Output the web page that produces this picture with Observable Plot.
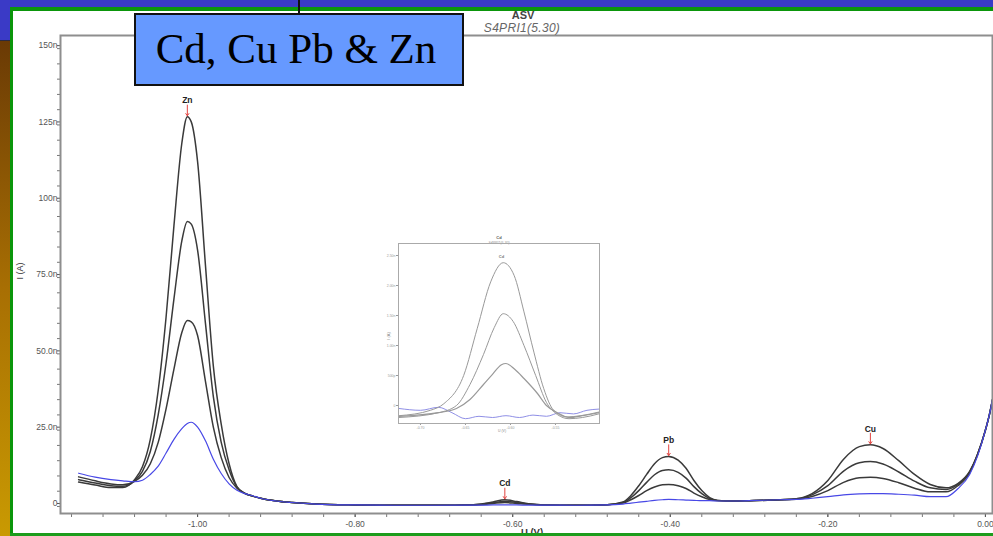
<!DOCTYPE html>
<html>
<head>
<meta charset="utf-8">
<script src="https://cdn.jsdelivr.net/npm/d3@7"></script>
<script src="https://cdn.jsdelivr.net/npm/@observablehq/plot@0.6"></script>
<style>
  html, body { margin: 0; padding: 0; width: 993px; height: 536px; overflow: hidden; background: #3a3ac6; font-family: "Liberation Sans", Arial, sans-serif; }
  #strip { position: absolute; left: 0; top: 40px; width: 10px; height: 496px; background: linear-gradient(#6a3a05, #a86f03 50%, #c99a02); border-top: 1px solid #2a2a40; }
  #panel { position: absolute; left: 10px; top: 7px; width: 1100px; height: 540px; background: #fff; border-left: 3.5px solid #0b960b; border-top: 4px solid #0b960b; box-sizing: border-box; }
  #bottom { position: absolute; left: 10px; top: 533px; width: 983px; height: 3px; background: #1c9c1c; z-index: 10; }
  #chart { position: absolute; left: 13px; top: 11px; }
  #inset { position: absolute; left: 383px; top: 233px; }
  .t { position: absolute; white-space: nowrap; transform: translate(-50%, -50%); }
  #title { left: 523px; top: 15px; font-size: 11px; font-weight: bold; color: #444; }
  #subtitle { left: 522px; top: 28px; font-size: 12px; font-style: italic; color: #666; letter-spacing: 0.3px; }
  #ylabel { left: 19.5px; top: 271px; font-size: 9px; color: #333; transform: translate(-50%, -50%) rotate(-90deg); }
  #xlabel { left: 532px; top: 531px; font-size: 9.5px; font-weight: bold; color: #333; }
  #ilabel { left: 388px; top: 336px; font-size: 4px; color: #888; transform: translate(-50%, -50%) rotate(-90deg); }
  #ixlabel { left: 502px; top: 431px; font-size: 3.5px; color: #888; }
  #box { position: absolute; left: 134px; top: 13px; width: 330px; height: 73px; box-sizing: border-box; border: 2px solid #111; background: #6699ff; font-family: "Liberation Serif", "Times New Roman", serif; font-size: 43px; color: #000; text-align: center; line-height: 67px; padding-right: 6px; z-index: 5; }
  #connector { position: absolute; left: 298px; top: 0; width: 1.5px; height: 13px; background: #111; z-index: 6; }
</style>
</head>
<body>
<div id="strip"></div>
<div id="panel"></div>
<div id="chart"></div>
<div id="inset"></div>
<div class="t" id="title">ASV</div>
<div class="t" id="subtitle">S4PRI1(5.30)</div>
<div class="t" id="ylabel">I (A)</div>
<div class="t" id="xlabel">U (V)</div>
<div class="t" id="ilabel">I (A)</div>
<div class="t" id="ixlabel">U (V)</div>
<div id="connector"></div>
<div id="box">Cd, Cu Pb &amp; Zn</div>
<div id="bottom"></div>
<script>
// Anodic stripping voltammograms: blank (blue) and three standard additions (black).
const potential = [
  -1.151, -1.13, -1.11, -1.095, -1.08, -1.07, -1.06, -1.05, -1.04, -1.03,
  -1.02, -1.013, -1.008, -1.00, -0.99, -0.98, -0.97, -0.96, -0.95, -0.94,
  -0.93, -0.92, -0.90, -0.88, -0.85, -0.80, -0.75, -0.70, -0.66, -0.64,
  -0.625, -0.61, -0.595, -0.58, -0.56, -0.52, -0.48, -0.46, -0.45, -0.44,
  -0.43, -0.42, -0.41, -0.402, -0.39, -0.38, -0.37, -0.36, -0.35, -0.34,
  -0.32, -0.30, -0.26, -0.24, -0.22, -0.20, -0.18, -0.16, -0.146, -0.13,
  -0.11, -0.09, -0.07, -0.05, -0.035, -0.02, -0.01, 0.0, 0.005, 0.009
];
// currents in nA
const currentAdd3 = [
  8.0, 7.0, 6.2, 6.2, 8.8, 13, 22, 38, 62, 92,
  119, 127.7, 126, 113, 79, 46, 27, 14, 6.5, 4.3,
  3.4, 2.7, 1.8, 1.3, 0.8, 0.5, 0.4, 0.4, 0.45, 0.8,
  1.5, 2.2, 1.6, 0.9, 0.5, 0.4, 0.6, 1.5, 3.6, 6.8,
  10.5, 14, 16, 16.4, 15.2, 12.5, 8.5, 5.2, 2.9, 2.0,
  1.8, 1.9, 2.2, 2.5, 4.2, 8.5, 15.5, 19.6, 20.2, 19.0,
  15.0, 10.5, 7.2, 6.1, 7.5, 11.5, 17, 25, 30, 35
];
const currentAdd2 = [
  8.8, 7.7, 6.8, 6.6, 8.4, 11.5, 18, 30, 47, 68,
  87, 93.4, 92.5, 84, 60, 36, 21, 12, 6.3, 4.3,
  3.4, 2.7, 1.8, 1.3, 0.8, 0.5, 0.4, 0.4, 0.45, 0.7,
  1.2, 1.7, 1.3, 0.8, 0.5, 0.4, 0.6, 1.3, 2.9, 5.2,
  7.9, 10.4, 11.8, 12.0, 11.2, 9.3, 6.5, 4.2, 2.6, 2.0,
  1.8, 1.9, 2.2, 2.5, 3.8, 6.8, 11.6, 14.3, 14.7, 13.9,
  11.3, 8.3, 6.1, 5.6, 7.2, 11.3, 17, 25, 30, 35
];
const currentAdd1 = [
  9.7, 8.4, 7.4, 7.1, 8.2, 10.2, 14, 21, 32, 45,
  57, 60.9, 60.5, 56, 41, 26, 16, 9.5, 6.0, 4.3,
  3.4, 2.7, 1.8, 1.3, 0.8, 0.5, 0.4, 0.4, 0.45, 0.6,
  1.0, 1.3, 1.0, 0.7, 0.5, 0.4, 0.6, 1.1, 2.2, 3.6,
  5.2, 6.4, 7.1, 7.2, 6.8, 5.9, 4.4, 3.2, 2.3, 1.9,
  1.8, 1.9, 2.2, 2.4, 3.3, 5.2, 7.9, 9.4, 9.6, 9.2,
  7.8, 6.0, 4.8, 4.8, 6.8, 11.0, 17, 25, 30, 35
];
const currentBlank = [
  10.9, 9.6, 8.8, 8.4, 8.1, 8.6, 10.5, 13.2, 17.5, 22,
  25.5, 27.2, 27.6, 26, 21.5, 15.5, 10.8, 7.4, 5.3, 4.2,
  3.5, 2.7, 1.8, 1.3, 0.8, 0.5, 0.4, 0.4, 0.45, 0.45,
  0.5, 0.5, 0.5, 0.45, 0.45, 0.4, 0.5, 0.8, 1.1, 1.4,
  1.7, 2.0, 2.2, 2.3, 2.2, 2.1, 2.0, 1.9, 1.9, 1.8,
  1.8, 1.9, 2.2, 2.3, 2.7, 3.2, 3.8, 4.1, 4.2, 4.2,
  4.0, 3.7, 3.2, 3.2, 5.8, 10.5, 16.5, 25, 30, 35
];

const peakNames = ["Zn", "Cd", "Pb", "Cu"];
const peakPotential = [-1.013, -0.61, -0.402, -0.146];
const peakCurrent = [127.7, 2.2, 16.4, 20.2];

const yTickValues = [0, 25, 50, 75, 100, 125, 150];
const yTickLabels = ["0", "25.0n", "50.0n", "75.0n", "100n", "125n", "150n"];
const xTickValues = [-1.0, -0.8, -0.6, -0.4, -0.2, 0.0];
const xTickLabels = ["-1.00", "-0.80", "-0.60", "-0.40", "-0.20", "0.00"];

// Cd window (zoomed view)
const insetAdd3U = [-0.7237, -0.689, -0.674, -0.652, -0.637, -0.622, -0.608, -0.596, -0.585, -0.574, -0.563, -0.552, -0.537, -0.522, -0.502];
const insetAdd3I = [-0.17, -0.08, 0.03, 0.5, 1.28, 2.06, 2.38, 2.17, 1.56, 0.89, 0.28, -0.08, -0.19, -0.17, -0.11];
const insetAdd2U = [-0.7237, -0.68, -0.66, -0.645, -0.63, -0.618, -0.608, -0.597, -0.585, -0.572, -0.56, -0.548, -0.535, -0.52, -0.502];
const insetAdd2I = [-0.2, -0.12, 0.0, 0.35, 0.85, 1.3, 1.53, 1.4, 1.0, 0.5, 0.05, -0.15, -0.22, -0.2, -0.14];
const insetAdd1U = [-0.7237, -0.68, -0.66, -0.645, -0.63, -0.62, -0.61, -0.605, -0.595, -0.585, -0.57, -0.56, -0.548, -0.535, -0.52, -0.502];
const insetAdd1I = [-0.18, -0.12, -0.05, 0.1, 0.35, 0.52, 0.68, 0.70, 0.6, 0.45, 0.2, 0.0, -0.12, -0.2, -0.17, -0.12];
const insetBlankU = [-0.7237, -0.70, -0.68, -0.665, -0.65, -0.635, -0.62, -0.605, -0.59, -0.575, -0.56, -0.545, -0.53, -0.515, -0.502];
const insetBlankI = [-0.05, -0.08, -0.03, -0.12, -0.22, -0.18, -0.2, -0.17, -0.2, -0.16, -0.18, -0.12, -0.14, -0.08, -0.06];
const insetYTicks = [0, 0.5, 1.0, 1.5, 2.0, 2.5];
const insetYLabels = ["0", "500p", "1.00n", "1.50n", "2.00n", "2.50n"];
const insetXTicks = [-0.70, -0.65, -0.60, -0.55];
const insetXLabels = ["-0.70", "-0.65", "-0.60", "-0.55"];

const traces = [
  {run: "add3", values: currentAdd3},
  {run: "add2", values: currentAdd2},
  {run: "add1", values: currentAdd1}
];
const blackRows = traces.flatMap(t => potential.map((u, i) => ({U: u, I: t.values[i], run: t.run})));
const blankRows = potential.map((u, i) => ({U: u, I: currentBlank[i]}));
const peaks = peakNames.map((name, i) => ({name, U: peakPotential[i], I: peakCurrent[i]}));

const main = Plot.plot({
  width: 980,
  height: 523,
  marginLeft: 47,
  marginRight: 1,
  marginTop: 24,
  marginBottom: 21,
  style: {background: "transparent", overflow: "visible", fontFamily: "Liberation Sans, Arial, sans-serif"},
  x: {domain: [-1.174, 0.009]},
  y: {domain: [-2.3, 154.3]},
  marks: [
    Plot.axisY({ticks: d3.range(0, 151, 5), tickSize: 3, tickFormat: () => "", color: "#777", label: null}),
    Plot.axisY({ticks: yTickValues, tickFormat: d => yTickLabels[yTickValues.indexOf(d)], tickSize: 3, tickPadding: 0, fontSize: 8.5, dy: -3, color: "#555", label: null}),
    Plot.axisX({ticks: d3.range(-29, 1).map(k => k * 0.04), tickSize: 4, tickFormat: () => "", color: "#777", label: null}),
    Plot.axisX({ticks: xTickValues, tickFormat: d => xTickLabels[xTickValues.indexOf(d)], tickSize: 4, tickPadding: 3, fontSize: 8.5, color: "#555", label: null}),
    Plot.line(blackRows, {x: "U", y: "I", z: "run", stroke: "#3a3a3a", strokeWidth: 1.5, curve: "monotone-x", clip: true}),
    Plot.line(blankRows, {x: "U", y: "I", stroke: "#4848e6", strokeWidth: 1.2, curve: "monotone-x", clip: true}),
    Plot.arrow(peaks, {x1: "U", x2: "U", y1: d => d.I + 3.8, y2: d => d.I + 0.3, stroke: "#e2433f", strokeWidth: 1, headLength: 4, headAngle: 70}),
    Plot.text(peaks, {x: "U", y: "I", text: "name", dy: -16, fontSize: 8.5, fontWeight: "bold", fill: "#222"}),
    Plot.frame({stroke: "#8e8e8e", strokeWidth: 2})
  ]
});
document.getElementById("chart").append(main);

const inset = Plot.plot({
  width: 218,
  height: 202,
  marginLeft: 15,
  marginRight: 2,
  marginTop: 10,
  marginBottom: 12,
  style: {background: "#fff", overflow: "visible", fontFamily: "Liberation Sans, Arial, sans-serif"},
  x: {domain: [-0.7244, -0.5011]},
  y: {domain: [-0.3, 2.7]},
  marks: [
    Plot.axisY({ticks: insetYTicks, tickFormat: d => insetYLabels[insetYTicks.indexOf(d)], tickSize: 2, tickPadding: 1, fontSize: 3.5, color: "#999", label: null}),
    Plot.axisX({ticks: insetXTicks, tickFormat: d => insetXLabels[insetXTicks.indexOf(d)], tickSize: 2, tickPadding: 1, fontSize: 3.5, color: "#999", label: null}),
    Plot.line(insetBlankU.map((u, i) => ({U: u, I: insetBlankI[i]})), {x: "U", y: "I", stroke: "#8f8fe6", strokeWidth: 1, curve: "monotone-x"}),
    Plot.line(insetAdd1U.map((u, i) => ({U: u, I: insetAdd1I[i]})), {x: "U", y: "I", stroke: "#999", strokeWidth: 1.2, curve: "monotone-x"}),
    Plot.line(insetAdd2U.map((u, i) => ({U: u, I: insetAdd2I[i]})), {x: "U", y: "I", stroke: "#999", strokeWidth: 1, curve: "monotone-x"}),
    Plot.line(insetAdd3U.map((u, i) => ({U: u, I: insetAdd3I[i]})), {x: "U", y: "I", stroke: "#999", strokeWidth: 1, curve: "monotone-x"}),
    Plot.text(["Cd"], {x: peakPotential[1], y: 2.38, dy: -6, fontSize: 4, fontWeight: "bold", fill: "#777"}),
    Plot.text(["Cd"], {frameAnchor: "top", dy: -7, fontSize: 4, fontWeight: "bold", fill: "#555"}),
    Plot.text(["S4PRI1(5.30)"], {frameAnchor: "top", dy: -2.5, fontSize: 3.5, fontStyle: "italic", fill: "#999"}),
    Plot.frame({stroke: "#aaa", strokeWidth: 1})
  ]
});
document.getElementById("inset").append(inset);
</script>
</body>
</html>
